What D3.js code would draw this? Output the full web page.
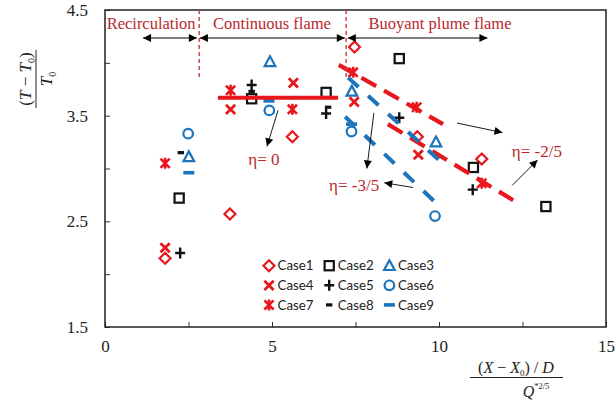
<!DOCTYPE html>
<html>
<head>
<meta charset="utf-8">
<script src="https://cdn.jsdelivr.net/npm/d3@7"></script>
<style>
  html, body { margin: 0; padding: 0; background: #fff; }
  svg { display: block; }
</style>
</head>
<body>
<svg id="chart" width="616" height="403"></svg>
<script>
// Dimensionless excess temperature vs. normalised distance, nine fire cases
const cases = ["Case1", "Case2", "Case3", "Case4", "Case5", "Case6", "Case7", "Case8", "Case9"];

const case1 = [[1.80, 2.15], [3.74, 2.57], [5.61, 3.30], [7.47, 4.15], [9.35, 3.30], [11.28, 3.09]];
const case2 = [[2.22, 2.72], [4.39, 3.66], [6.62, 3.72], [8.81, 4.04], [11.03, 3.01], [13.20, 2.64]];
const case3 = [[2.51, 3.11], [4.94, 4.01], [7.39, 3.73], [9.91, 3.25]];
const case4 = [[1.80, 2.25], [3.76, 3.56], [5.64, 3.81], [7.46, 3.63], [9.38, 3.13]];
const case5 = [[2.25, 2.20], [4.39, 3.79], [6.62, 3.52], [8.81, 3.48], [11.01, 2.80]];
const case6 = [[2.49, 3.33], [4.92, 3.55], [7.38, 3.35], [9.88, 2.55]];
const case7 = [[1.80, 3.05], [3.76, 3.74], [5.61, 3.56], [7.43, 3.91], [9.33, 3.58], [11.28, 2.86]];
const case8 = [[2.27, 3.15], [4.39, 3.73], [6.68, 3.58]];
const case9 = [[2.51, 2.96], [4.91, 3.64], [7.38, 3.42]];

// Slope lines for the three regimes (η = 0, -2/5, -3/5)
const fitEtaZero = [[3.38, 3.67], [6.98, 3.67]];
const fitEtaTwoFifthsA = [[7.00, 3.98], [10.12, 3.42]];
const fitEtaTwoFifthsB = [[8.47, 3.42], [12.22, 2.70]];
const fitEtaThreeFifthsA = [[7.28, 3.86], [10.21, 3.02]];
const fitEtaThreeFifthsB = [[7.19, 3.49], [10.09, 2.62]];

const xTickLabels = [0, 5, 10, 15];
const yTickLabels = [1.5, 2.5, 3.5, 4.5];

const RED = "#e8161d", BLUE = "#1c74bc", BLACK = "#111", DARKRED = "#b8282d";

const seriesList = [
  { name: cases[0], data: case1, shape: "diamond", color: RED },
  { name: cases[1], data: case2, shape: "square", color: BLACK },
  { name: cases[2], data: case3, shape: "triangle", color: BLUE },
  { name: cases[3], data: case4, shape: "x", color: RED },
  { name: cases[4], data: case5, shape: "plus", color: BLACK },
  { name: cases[5], data: case6, shape: "circle", color: BLUE },
  { name: cases[6], data: case7, shape: "asterisk", color: RED },
  { name: cases[7], data: case8, shape: "shortdash", color: BLACK },
  { name: cases[8], data: case9, shape: "longdash", color: BLUE }
];

const svg = d3.select("#chart");
const plot = { left: 105, right: 606, top: 10, bottom: 327 };

const x = d3.scaleLinear().domain([0, 15]).range([plot.left, plot.right]);
const y = d3.scaleLinear().domain([1.5, 4.5]).range([plot.bottom, plot.top]);

// arrowheads
const defs = svg.append("defs");
defs.append("marker")
  .attr("id", "head").attr("viewBox", "0 0 10 10")
  .attr("refX", 10).attr("refY", 5)
  .attr("markerUnits", "userSpaceOnUse")
  .attr("markerWidth", 10).attr("markerHeight", 8)
  .attr("orient", "auto-start-reverse")
  .append("path").attr("d", "M0,0L10,5L0,10Z").attr("fill", "#000");

// axes (ticks point inward, labels only on whole/half steps listed)
const yAxis = d3.axisLeft(y)
  .tickValues(d3.range(1.5, 4.51, 0.5))
  .tickSizeInner(-5).tickSizeOuter(0).tickPadding(17)
  .tickFormat(d => yTickLabels.includes(d) ? d3.format(".1f")(d) : "");
const xAxis = d3.axisBottom(x)
  .tickValues(d3.range(0, 15.01, 2.5))
  .tickSizeInner(-5).tickSizeOuter(0).tickPadding(13)
  .tickFormat(d => xTickLabels.includes(d) ? d3.format("d")(d) : "");

const styleAxis = g => {
  g.select(".domain").remove();
  g.selectAll(".tick line").attr("stroke", "#333").attr("stroke-width", 1);
  g.selectAll(".tick text")
    .attr("font-family", "'Liberation Serif', 'Times New Roman', serif")
    .attr("font-size", 17).attr("fill", "#222");
};
svg.append("g").attr("transform", `translate(${plot.left},0)`).call(yAxis).call(styleAxis);
svg.append("g").attr("transform", `translate(0,${plot.bottom})`).call(xAxis).call(styleAxis);

// plot frame
svg.append("rect")
  .attr("x", plot.left).attr("y", plot.top)
  .attr("width", plot.right - plot.left).attr("height", plot.bottom - plot.top)
  .attr("fill", "none").attr("stroke", "#222").attr("stroke-width", 1.5);

// marker glyphs
function drawGlyph(g, shape, color) {
  switch (shape) {
    case "diamond":
      g.append("path").attr("d", "M0,-5.5L5.5,0L0,5.5L-5.5,0Z")
        .attr("fill", "none").attr("stroke", color).attr("stroke-width", 2.2); break;
    case "square":
      g.append("rect").attr("x", -4.6).attr("y", -4.6).attr("width", 9.2).attr("height", 9.2)
        .attr("fill", "none").attr("stroke", color).attr("stroke-width", 2.2); break;
    case "triangle":
      g.append("path").attr("d", "M0,-5.5L5.3,4.3L-5.3,4.3Z")
        .attr("fill", "none").attr("stroke", color).attr("stroke-width", 2.2).attr("stroke-linejoin", "miter"); break;
    case "x":
      g.append("path").attr("d", "M-4.6,-4.6L4.6,4.6M4.6,-4.6L-4.6,4.6")
        .attr("stroke", color).attr("stroke-width", 2.8); break;
    case "plus":
      g.append("path").attr("d", "M-5,0H5M0,-5.5V5.5")
        .attr("stroke", color).attr("stroke-width", 2.4); break;
    case "circle":
      g.append("circle").attr("r", 4.8)
        .attr("fill", "none").attr("stroke", color).attr("stroke-width", 2.2); break;
    case "asterisk":
      g.append("path").attr("d", "M-4.6,-4.6L4.6,4.6M4.6,-4.6L-4.6,4.6M0,-5.5V5.5")
        .attr("stroke", color).attr("stroke-width", 2.6); break;
    case "shortdash":
      g.append("rect").attr("x", -3.2).attr("y", -1.6).attr("width", 6.4).attr("height", 3.2)
        .attr("fill", color); break;
    case "longdash":
      g.append("rect").attr("x", -5.5).attr("y", -1.8).attr("width", 11).attr("height", 3.6)
        .attr("fill", color); break;
  }
}

// data markers
seriesList.forEach(s => {
  svg.append("g").attr("class", "series")
    .selectAll("g").data(s.data).join("g")
    .attr("transform", d => `translate(${x(d[0])},${y(d[1])})`)
    .each(function () { drawGlyph(d3.select(this), s.shape, s.color); });
});

// slope lines
const line = d3.line().x(d => x(d[0])).y(d => y(d[1]));
svg.append("path").datum(fitEtaZero).attr("d", line)
  .attr("stroke", RED).attr("stroke-width", 4).attr("fill", "none");
[fitEtaTwoFifthsA, fitEtaTwoFifthsB].forEach(f => {
  svg.append("path").datum(f).attr("d", line)
    .attr("stroke", RED).attr("stroke-width", 4.2).attr("fill", "none")
    .attr("stroke-dasharray", "17,9");
});
[fitEtaThreeFifthsA, fitEtaThreeFifthsB].forEach(f => {
  svg.append("path").datum(f).attr("d", line)
    .attr("stroke", BLUE).attr("stroke-width", 4).attr("fill", "none")
    .attr("stroke-dasharray", "14,13");
});

// regime boundaries and spans
const serif = "'Liberation Serif', 'Times New Roman', serif";
[2.82, 7.22].forEach(b => {
  svg.append("line")
    .attr("x1", x(b)).attr("x2", x(b)).attr("y1", y(4.5)).attr("y2", y(3.86))
    .attr("stroke", "#d23a3d").attr("stroke-width", 1.4).attr("stroke-dasharray", "4,3");
});
const spans = [
  { from: 1.14, to: 2.75, label: "Recirculation", mid: 1.38 },
  { from: 2.84, to: 7.18, label: "Continuous flame", mid: 5.0 },
  { from: 7.27, to: 11.45, label: "Buoyant plume flame", mid: 10.03 }
];
spans.forEach(s => {
  svg.append("line")
    .attr("x1", x(s.from)).attr("x2", x(s.to)).attr("y1", y(4.235)).attr("y2", y(4.235))
    .attr("stroke", "#000").attr("stroke-width", 1)
    .attr("marker-start", "url(#head)").attr("marker-end", "url(#head)");
  svg.append("text").attr("x", x(s.mid)).attr("y", y(4.32))
    .attr("text-anchor", "middle").attr("font-family", serif).attr("font-size", 16.5)
    .attr("fill", DARKRED).text(s.label);
});

// slope annotations
const pointers = [
  [[5.18, 3.55], [4.85, 3.21]],
  [[8.05, 3.525], [7.84, 3.00]],
  [[9.22, 2.82], [8.36, 2.865]],
  [[10.54, 3.43], [11.90, 3.34]],
  [[12.19, 2.84], [12.95, 3.08]]
];
pointers.forEach(p => {
  svg.append("line")
    .attr("x1", x(p[0][0])).attr("y1", y(p[0][1]))
    .attr("x2", x(p[1][0])).attr("y2", y(p[1][1]))
    .attr("stroke", "#000").attr("stroke-width", 0.9)
    .attr("marker-end", "url(#head)");
});
const etaLabels = [
  { at: [4.76, 3.03], text: "η= 0" },
  { at: [7.46, 2.79], text: "η= -3/5" },
  { at: [12.93, 3.11], text: "η= -2/5" }
];
etaLabels.forEach(l => {
  svg.append("text").attr("x", x(l.at[0])).attr("y", y(l.at[1]))
    .attr("text-anchor", "middle").attr("font-family", serif).attr("font-size", 17)
    .attr("fill", DARKRED).text(l.text);
});

// legend, 3 x 3
const legend = svg.append("g");
seriesList.forEach((s, i) => {
  const col = i % 3, row = Math.floor(i / 3);
  const g = legend.append("g").attr("transform", `translate(${269 + col * 60.2},${265.7 + row * 19.6})`);
  drawGlyph(g, s.shape, s.color);
  g.append("text").attr("x", 8.5).attr("y", 0).attr("dy", "0.36em")
    .attr("font-family", "Lato, 'Open Sans', sans-serif").attr("font-size", 13.3)
    .attr("fill", "#222").text(s.name);
});

// y-axis title: (T - T0) / T0, written vertically
const yt = svg.append("g").attr("transform", "translate(36,79) rotate(-90)")
  .attr("font-family", serif).attr("font-size", 17).attr("fill", "#222");
const yNum = yt.append("text").attr("x", 0).attr("y", -5).attr("text-anchor", "middle");
yNum.append("tspan").text("(");
yNum.append("tspan").attr("font-style", "italic").text("T");
yNum.append("tspan").text(" − ");
yNum.append("tspan").attr("font-style", "italic").text("T");
yNum.append("tspan").attr("font-size", 10).attr("dy", 4).text("0");
yNum.append("tspan").attr("dy", -4).text(")");
yt.append("line").attr("x1", -29).attr("x2", 29).attr("y1", 0).attr("y2", 0)
  .attr("stroke", "#222").attr("stroke-width", 1);
const yDen = yt.append("text").attr("x", 0).attr("y", 16).attr("text-anchor", "middle");
yDen.append("tspan").attr("font-style", "italic").text("T");
yDen.append("tspan").attr("font-size", 10).attr("dy", 4).text("0");

// x-axis title: ((X - X0) / D) / Q*^(2/5)
const xt = svg.append("g").attr("font-family", serif).attr("font-size", 16).attr("fill", "#222");
const xNum = xt.append("text").attr("x", 516).attr("y", 373).attr("text-anchor", "middle");
xNum.append("tspan").text("(");
xNum.append("tspan").attr("font-style", "italic").text("X");
xNum.append("tspan").text(" − ");
xNum.append("tspan").attr("font-style", "italic").text("X");
xNum.append("tspan").attr("font-size", 9).attr("dy", 3).text("0");
xNum.append("tspan").attr("dy", -3).text(") / ");
xNum.append("tspan").attr("font-style", "italic").text("D");
xt.append("line").attr("x1", 470).attr("x2", 563).attr("y1", 377.5).attr("y2", 377.5)
  .attr("stroke", "#222").attr("stroke-width", 1);
const xDen = xt.append("text").attr("x", 536).attr("y", 397).attr("text-anchor", "middle");
xDen.append("tspan").attr("font-style", "italic").text("Q");
xDen.append("tspan").attr("font-size", 8.5).attr("dy", -8).text("*2/5");
</script>
</body>
</html>
